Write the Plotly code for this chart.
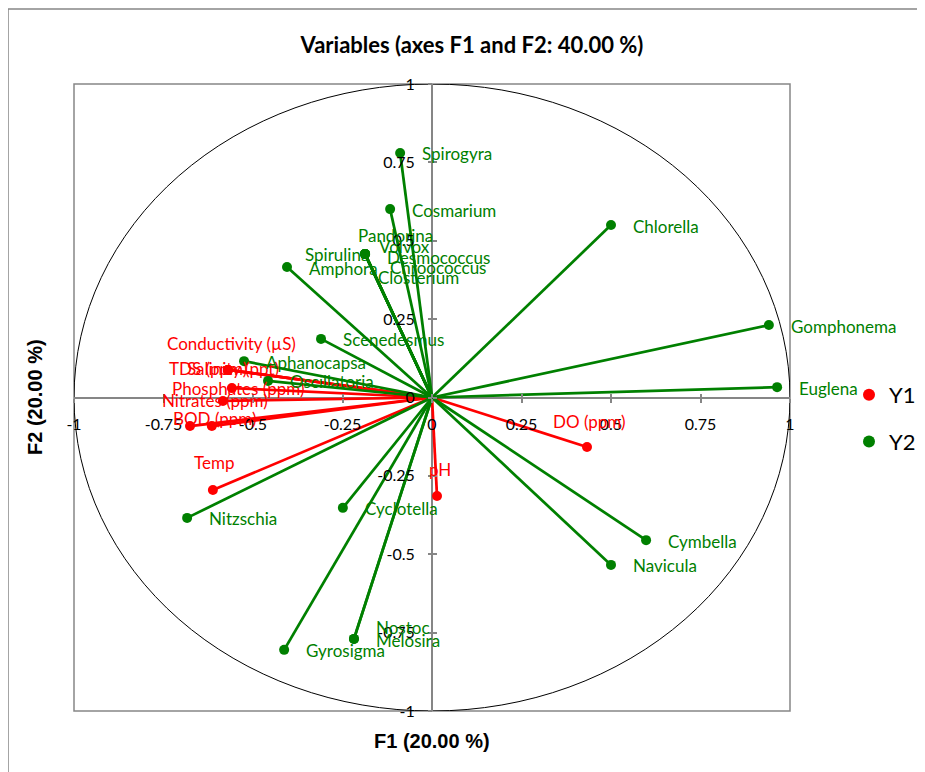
import plotly.graph_objects as go

# ---------------- data ----------------
green_names = ["Spirogyra", "Cosmarium", "Chlorella", "Spirulina", "Pandorina", "Volvox",
               "Desmococcus", "Chroococcus", "Closterium", "Amphora", "Gomphonema", "Euglena",
               "Scenedesmus", "Aphanocapsa", "Oscillatoria", "Nitzschia", "Cyclotella",
               "Cymbella", "Navicula", "Gyrosigma", "Nostoc", "Melosira"]
green_f1 = [-0.089, -0.117, 0.500, -0.187, -0.187, -0.187,
            -0.187, -0.187, -0.187, -0.405, 0.941, 0.964,
            -0.310, -0.525, -0.458, -0.684, -0.249,
            0.598, 0.500, -0.413, -0.218, -0.218]
green_f2 = [0.780, 0.601, 0.550, 0.458, 0.458, 0.458,
            0.458, 0.458, 0.458, 0.416, 0.231, 0.033,
            0.187, 0.116, 0.053, -0.384, -0.352,
            -0.455, -0.534, -0.805, -0.770, -0.770]

red_names = ["Conductivity (µS)", "TDS (ppm)", "Salinity (ppt)", "Phosphates (ppm)",
             "Nitrates (ppm)", "BOD (ppm)", "", "Temp", "DO (ppm)", "pH"]
red_f1 = [-0.570, -0.570, -0.570, -0.559, -0.584, -0.615, -0.676, -0.612, 0.433, 0.014]
red_f2 = [0.088, 0.088, 0.088, 0.030, -0.011, -0.091, -0.091, -0.295, -0.158, -0.314]

tick_vals = [-1, -0.75, -0.5, -0.25, 0, 0.25, 0.5, 0.75, 1]
tick_text = ["-1", "-0.75", "-0.5", "-0.25", "0", "0.25", "0.5", "0.75", "1"]

series = [("Y1", red_names, red_f1, red_f2), ("Y2", green_names, green_f1, green_f2)]

# ---------------- style ----------------
RED = "#FF0000"
GREEN = "#008000"
GRAY = "#868686"
colors = {"Y1": RED, "Y2": GREEN}
LABEL_FONT = "Lato"
# label offsets (px) relative to the point: (dx to label left edge, dy downwards)
default_off = (20, 1)
label_off = {
    "Spirulina": (-62, 1), "Pandorina": (-9, -18), "Volvox": (12, -7),
    "Desmococcus": (20, 4), "Chroococcus": (23, 14), "Closterium": (11, 24),
    "Nostoc": (20, -11), "Melosira": (20, 2),
    "Conductivity (µS)": (-63, -26), "TDS (ppm)": (-61, -1), "Salinity (ppt)": (-43, -1),
    "Phosphates (ppm)": (-62, 0), "Nitrates (ppm)": (-63, 0), "BOD (ppm)": (-41, -8),
    "Temp": (-21, -27), "DO (ppm)": (-36, -26), "pH": (-10, -26),
}

W, H = 925, 772
OFF = 8  # page body margin
L, T = 74 - OFF, 84 - OFF
pw, ph = 716, 627
R, B = W - L - pw, H - T - ph

def px_x(p):  # screen px -> paper x
    return (p - OFF - L) / pw

def px_y(p):  # screen px -> paper y
    return (T + ph - (p - OFF)) / ph

fig = go.Figure()

annotations = []
for gi, (sname, names, f1, f2) in enumerate(series):
    c = colors[sname]
    lx, ly = [], []
    for x, y in zip(f1, f2):
        lx += [0, x, None]
        ly += [0, y, None]
    fig.add_trace(go.Scatter(x=lx, y=ly, mode="lines", line=dict(color=c, width=2.75),
                             showlegend=False, hoverinfo="skip", legendgroup=sname))
    fig.add_trace(go.Scatter(x=f1, y=f2, mode="markers", name=sname, text=names,
                             marker=dict(color=c, size=10), legendgroup=sname))
    for n, x, y in zip(names, f1, f2):
        if not n:
            continue
        dx, dy = label_off.get(n, default_off)
        annotations.append(dict(x=x, y=y, xref="x", yref="y", text=n, showarrow=False,
                                xanchor="left", yanchor="middle", xshift=dx, yshift=-dy,
                                font=dict(family=LABEL_FONT, size=17, color=c)))

# dummy trace for overlay axes (cross ticks)
fig.add_trace(go.Scatter(x=[None], y=[None], xaxis="x2", yaxis="y2", showlegend=False,
                         hoverinfo="skip"))

# axis titles
annotations.append(dict(x=px_x(432), y=px_y(741), xref="paper", yref="paper",
                        text="<b>F1 (20.00 %)</b>",
                        showarrow=False, xanchor="center", yanchor="middle",
                        font=dict(family="Liberation Sans", size=20, color="#000000")))
annotations.append(dict(x=px_x(35), y=px_y(397), xref="paper", yref="paper",
                        text="<b>F2 (20.00 %)</b>",
                        showarrow=False, xanchor="center", yanchor="middle", textangle=-90,
                        font=dict(family="Liberation Sans", size=20, color="#000000")))

shapes = [
    dict(type="circle", xref="x", yref="y", x0=-1, y0=-1, x1=1, y1=1,
         line=dict(color="#000000", width=1), layer="below"),
    dict(type="rect", xref="paper", yref="paper", x0=0, y0=0, x1=1, y1=1,
         line=dict(color=GRAY, width=1.5), layer="below"),
    dict(type="path", xref="paper", yref="paper",
         path=f"M {px_x(8)} {px_y(800)} L {px_x(8)} {px_y(9)} L {px_x(960)} {px_y(9)}",
         line=dict(color=GRAY, width=1.5)),
]

axis_common = dict(range=[-1, 1], tickvals=tick_vals, ticktext=tick_text, showgrid=False,
                   zeroline=True, zerolinecolor=GRAY, zerolinewidth=1.5, showline=False,
                   ticks="outside", ticklen=4, tickwidth=1.5, tickcolor=GRAY,
                   tickfont=dict(family=LABEL_FONT, size=16, color="#000000"),
                   anchor="free", position=0.5, fixedrange=True)
overlay_common = dict(range=[-1, 1], tickvals=tick_vals, showgrid=False, zeroline=False,
                      showline=False, ticks="inside", ticklen=4, tickwidth=1.5, tickcolor=GRAY,
                      showticklabels=False, anchor="free", position=0.5)

fig.update_layout(
    width=W, height=H,
    margin=dict(l=L, r=R, t=T, b=B, autoexpand=False),
    paper_bgcolor="white", plot_bgcolor="white",
    title=dict(text="<b>Variables (axes F1 and F2: 40.00 %)</b>", x=(472 - OFF) / W,
               xanchor="center", y=1 - (45 - OFF) / H, yanchor="middle",
               font=dict(family=LABEL_FONT, size=22, color="#000000")),
    xaxis=dict(**axis_common, domain=[0, 1], ticklabelstandoff=8),
    yaxis=dict(**axis_common, domain=[0, 1], ticklabelstandoff=10),
    xaxis2=dict(**overlay_common, overlaying="x"),
    yaxis2=dict(**overlay_common, overlaying="y"),
    showlegend=True,
    legend=dict(x=px_x(849), y=px_y(374), xanchor="left", yanchor="top",
                font=dict(family=LABEL_FONT, size=22, color="#000000"),
                tracegroupgap=15, bgcolor="rgba(0,0,0,0)", itemsizing="constant"),
    annotations=annotations,
    shapes=shapes,
)

fig.write_html("out.html")
